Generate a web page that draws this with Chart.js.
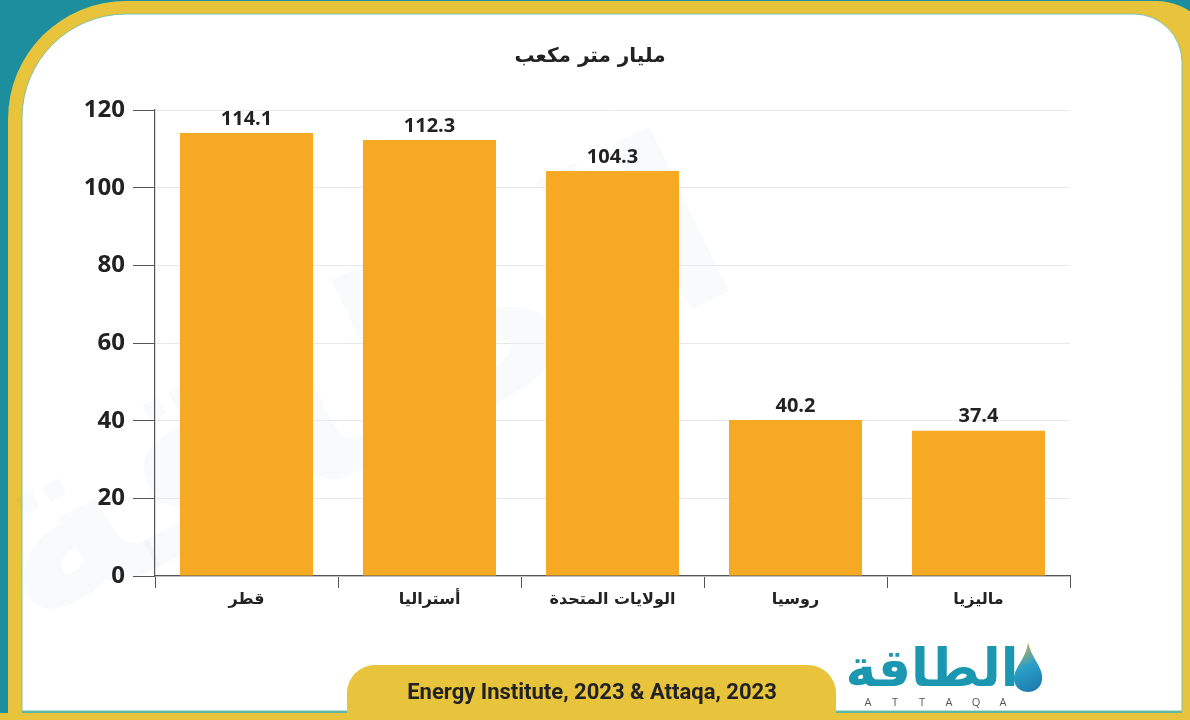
<!DOCTYPE html>
<html>
<head>
<meta charset="utf-8">
<script src="https://cdn.jsdelivr.net/npm/chart.js@4"></script>
<style>
  html, body { margin: 0; padding: 0; background: #1c8e9d; }
  canvas { display: block; }
</style>
</head>
<body>
<canvas id="chart" width="1190" height="720"></canvas>
<script>
'use strict';

// Données
const countries = ['قطر', 'أستراليا', 'الولايات المتحدة', 'روسيا', 'ماليزيا'];
const exportsBcm = [114.1, 112.3, 104.3, 40.2, 37.4];
const yTicks = [0, 20, 40, 60, 80, 100, 120];

const chartTitle = 'مليار متر مكعب';
const sourceText = 'Energy Institute, 2023 & Attaqa, 2023';

// Couleurs
const TEAL = '#1c8e9d';
const YELLOW = '#e8c33c';
const BAR = '#f6aa24';
const INK = '#222222';

const NUM_FONT = "'Open Sans', 'DejaVu Sans', sans-serif";
const AR_FONT = "'DejaVu Sans', sans-serif";

// Cadre, titre et bandeau de source
const frame = {
  id: 'frame',
  beforeDraw(chart) {
    const { ctx, width, height } = chart;
    ctx.save();
    ctx.fillStyle = TEAL;
    ctx.fillRect(0, 0, width, height);

    ctx.beginPath();
    ctx.roundRect(8, 1, width + 20, height + 20, [118, 62, 0, 0]);
    ctx.fillStyle = YELLOW;
    ctx.fill();

    ctx.beginPath();
    ctx.roundRect(22, 14, 1160, 697, [104, 48, 0, 0]);
    ctx.fillStyle = '#ffffff';
    ctx.fill();
    ctx.strokeStyle = '#7cc3a6';
    ctx.lineWidth = 1;
    ctx.stroke();

    // Filigrane discret
    ctx.save();
    ctx.translate(360, 400);
    ctx.rotate(-0.45);
    ctx.font = 'bold 240px ' + AR_FONT;
    ctx.fillStyle = 'rgba(40, 90, 140, 0.028)';
    ctx.textAlign = 'center';
    ctx.textBaseline = 'middle';
    ctx.fillText('الطاقة', 0, 0);
    ctx.restore();

    // Titre
    ctx.font = 'bold 20px ' + AR_FONT;
    ctx.fillStyle = INK;
    ctx.textAlign = 'center';
    ctx.textBaseline = 'middle';
    ctx.fillText(chartTitle, 590, 57);
    ctx.restore();
  },
  afterDraw(chart) {
    const { ctx, width } = chart;
    ctx.save();
    // Bas du cadre
    ctx.fillStyle = '#5fb7a3';
    ctx.fillRect(22, 711, 1160, 2);
    ctx.fillStyle = YELLOW;
    ctx.fillRect(0, 713, width, 10);

    // Bandeau de source
    ctx.beginPath();
    ctx.roundRect(347, 665, 489, 60, [28, 28, 0, 0]);
    ctx.fillStyle = YELLOW;
    ctx.fill();
    ctx.font = 'bold 22px Roboto, sans-serif';
    ctx.fillStyle = INK;
    ctx.textAlign = 'center';
    ctx.textBaseline = 'middle';
    ctx.fillText(sourceText, 592, 693);

    // Logo
    ctx.font = 'bold 52px ' + AR_FONT;
    ctx.fillStyle = '#1b97b2';
    ctx.textAlign = 'center';
    ctx.textBaseline = 'alphabetic';
    ctx.fillText('الطاقة', 932, 686);
    ctx.font = '11px ' + NUM_FONT;
    ctx.fillStyle = '#555';
    const letters = 'ATTAQA'.split('');
    letters.forEach((l, i) => ctx.fillText(l, 868 + i * 27, 706));

    // Goutte
    ctx.beginPath();
    ctx.moveTo(1028, 642);
    ctx.bezierCurveTo(1032, 660, 1044, 668, 1042, 680);
    ctx.bezierCurveTo(1040, 696, 1016, 696, 1014, 680);
    ctx.bezierCurveTo(1013, 668, 1026, 660, 1028, 642);
    const g = ctx.createLinearGradient(1014, 642, 1042, 696);
    g.addColorStop(0, '#f3b33a');
    g.addColorStop(0.45, '#2aa0c8');
    g.addColorStop(1, '#1a6fa8');
    ctx.fillStyle = g;
    ctx.fill();
    ctx.restore();
  },
};

// Étiquettes de valeurs au-dessus des barres
const valueLabels = {
  id: 'valueLabels',
  afterDatasetsDraw(chart) {
    const { ctx } = chart;
    const meta = chart.getDatasetMeta(0);
    ctx.save();
    ctx.font = 'bold 20px ' + NUM_FONT;
    ctx.fillStyle = INK;
    ctx.textAlign = 'center';
    ctx.textBaseline = 'bottom';
    meta.data.forEach((bar, i) => {
      ctx.fillText(exportsBcm[i].toFixed(1), bar.x, bar.y - 4);
    });
    ctx.restore();
  },
};

const configuration = {
  type: 'bar',
  data: {
    labels: countries,
    datasets: [
      {
        data: exportsBcm,
        backgroundColor: BAR,
        borderWidth: 0,
        categoryPercentage: 1,
        barPercentage: 0.727,
      },
    ],
  },
  options: {
    responsive: false,
    animation: false,
    plugins: {
      legend: { display: false },
      title: { display: false },
      tooltip: { enabled: false },
    },
    layout: {
      padding: { left: 0, top: 110, right: 120, bottom: 104 },
    },
    scales: {
      x: {
        offset: true,
        grid: {
          offset: true,
          drawOnChartArea: false,
          tickLength: 12,
          tickColor: '#555',
        },
        border: { color: '#555', width: 1.2 },
        ticks: {
          color: INK,
          padding: 2,
          font: { family: AR_FONT, size: 16, weight: 'bold' },
        },
        afterFit(scale) {
          scale.height = 40;
        },
      },
      y: {
        min: 0,
        max: 120,
        afterBuildTicks(scale) {
          scale.ticks = yTicks.map((v) => ({ value: v }));
        },
        grid: {
          color: '#e9e9e9',
          lineWidth: 1,
          tickLength: 22,
          tickColor: '#555',
        },
        border: { color: '#555', width: 1.2 },
        ticks: {
          color: INK,
          padding: 8,
          font: { family: NUM_FONT, size: 24, weight: 'bold' },
        },
        afterFit(scale) {
          scale.width = 155;
        },
      },
    },
  },
  plugins: [frame, valueLabels],
};

new Chart(document.getElementById('chart').getContext('2d'), configuration);
</script>
</body>
</html>
